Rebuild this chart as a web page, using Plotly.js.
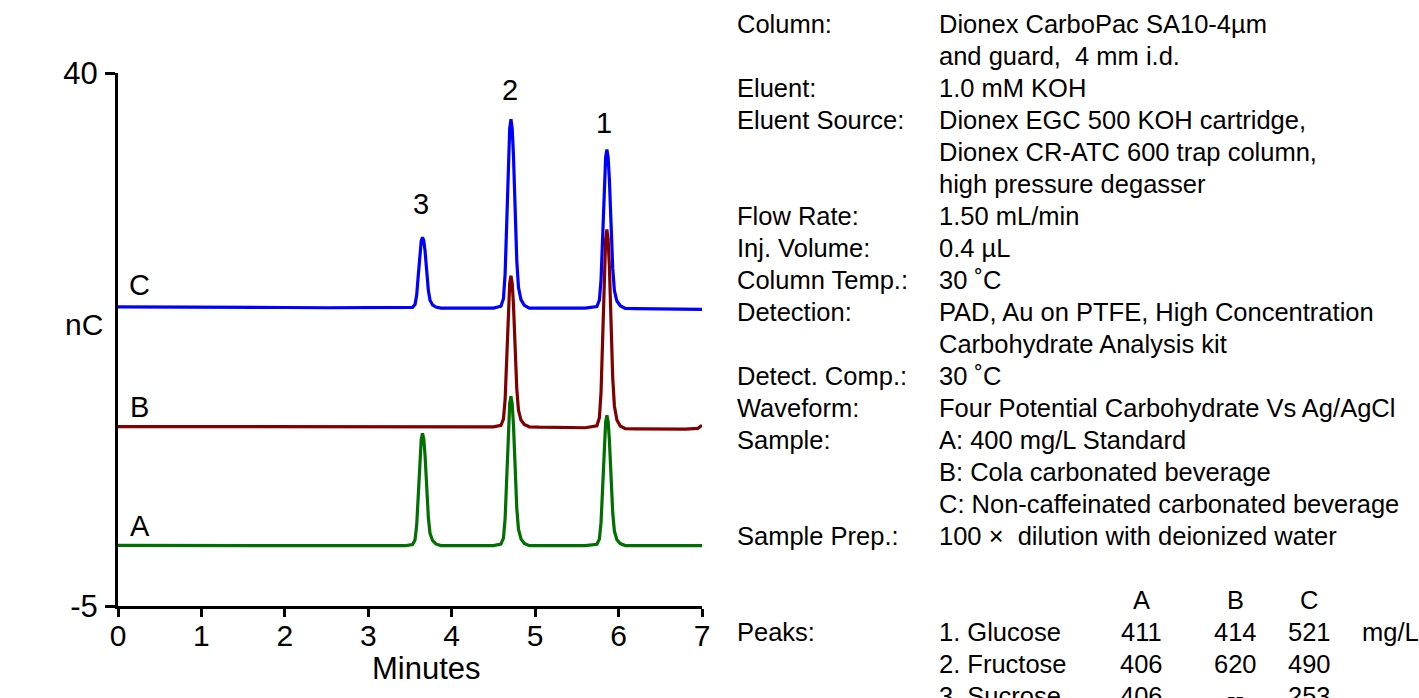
<!DOCTYPE html>
<html>
<head>
<meta charset="utf-8">
<script src="https://cdn.plot.ly/plotly-3.0.1.min.js"></script>
<style>
  html, body { margin: 0; padding: 0; background: #ffffff; }
  #chart { width: 1419px; height: 698px; }
</style>
</head>
<body>
<div id="chart"></div>
<script>
// ---- Data ----
const timeMin = [0, 0.5, 1, 1.5, 2, 2.5, 3, 3.3, 3.45,
  3.53, 3.56, 3.58, 3.60, 3.62, 3.635, 3.65, 3.665, 3.68, 3.70, 3.72, 3.74, 3.77, 3.81, 3.87,
  4.0, 4.3, 4.5,
  4.59, 4.62, 4.64, 4.66, 4.68, 4.695, 4.71, 4.725, 4.74, 4.76, 4.78, 4.80, 4.83, 4.87, 4.93,
  5.05, 5.3, 5.6,
  5.74, 5.77, 5.79, 5.81, 5.83, 5.845, 5.86, 5.875, 5.89, 5.91, 5.93, 5.95, 5.98, 6.02, 6.08,
  6.2, 6.5, 6.8, 6.95, 7.0];

const traceA = [0.12, 0.1, 0.1, 0.08, 0.1, 0.1, 0.1, 0.1, 0.1,
  0.19, 0.57, 1.80, 4.55, 7.58, 9.10, 9.57, 9.10, 7.77, 5.02, 2.47, 1.14, 0.53, 0.24, 0.1,
  0.1, 0.1, 0.1,
  0.23, 0.73, 2.37, 6.02, 10.05, 12.07, 12.7, 12.07, 10.31, 6.65, 3.25, 1.49, 0.67, 0.29, 0.1,
  0.1, 0.1, 0.1,
  0.21, 0.65, 2.08, 5.27, 8.79, 10.55, 11.1, 10.55, 9.01, 5.82, 2.85, 1.31, 0.60, 0.27, 0.1,
  0.1, 0.1, 0.1, 0.1, 0.1];

const traceB = [10.15, 10.15, 10.13, 10.13, 10.12, 10.13, 10.13, 10.13, 10.13,
  10.13, 10.13, 10.13, 10.13, 10.13, 10.13, 10.13, 10.13, 10.13, 10.13, 10.13, 10.13, 10.13, 10.13, 10.13,
  10.13, 10.13, 10.13,
  10.26, 10.77, 12.43, 16.12, 20.20, 22.24, 22.88, 22.24, 20.46, 16.76, 13.32, 11.53, 10.70, 10.32, 10.13,
  10.1, 10.1, 10.05,
  10.22, 10.89, 13.07, 17.92, 23.28, 25.96, 26.8, 25.96, 23.62, 18.76, 14.24, 11.89, 10.70, 10.2, 9.97,
  9.95, 9.93, 9.93, 10.0, 10.25];

const traceC = [20.25, 20.25, 20.22, 20.2, 20.2, 20.18, 20.18, 20.15, 20.15,
  20.21, 20.45, 21.23, 22.97, 24.88, 25.84, 26.14, 25.84, 25.0, 23.26, 21.65, 20.81, 20.42, 20.24, 20.15,
  20.15, 20.15, 20.15,
  20.31, 20.95, 23.02, 27.65, 32.75, 35.3, 36.1, 35.3, 33.07, 28.44, 24.14, 21.90, 20.87, 20.39, 20.15,
  20.15, 20.15, 20.15,
  20.28, 20.82, 22.56, 26.45, 30.74, 32.88, 33.55, 32.88, 31.0, 27.12, 23.5, 21.62, 20.75, 20.35, 20.12,
  20.1, 20.1, 20.08, 20.05, 20.05];

const traceNames = ["C", "B", "A"];
const xTickVals = [0, 1, 2, 3, 4, 5, 6, 7];
const yTickVals = [-5, 40];
const yTickText = ["-5", "40"];

const peakLabels = ["1", "2", "3"];
const peakLabelTimes = [5.83, 4.70, 3.63];
const peakLabelLevels = [35.8, 38.6, 28.9];

const traceLabelLevels = [22.1, 11.8, 1.75];

const paramLabels = ["Column:", "", "Eluent:", "Eluent Source:", "", "", "Flow Rate:", "Inj. Volume:",
  "Column Temp.:", "Detection:", "", "Detect. Comp.:", "Waveform:", "Sample:", "", "", "Sample Prep.:"];
const paramValues = ["Dionex CarboPac SA10-4µm", "and guard,\u00a0\u00a04 mm i.d.", "1.0 mM KOH",
  "Dionex EGC 500 KOH cartridge,", "Dionex CR-ATC 600 trap column,", "high pressure degasser",
  "1.50 mL/min", "0.4 µL", "30 ˚C", "PAD, Au on PTFE, High Concentration", "Carbohydrate Analysis kit",
  "30 ˚C", "Four Potential Carbohydrate Vs Ag/AgCl", "A: 400 mg/L Standard", "B: Cola carbonated beverage",
  "C: Non-caffeinated carbonated beverage", "100\u00a0×\u00a0\u00a0dilution with deionized water"];

const tableHeaders = ["A", "B", "C"];
const peakNames = ["1. Glucose", "2. Fructose", "3. Sucrose"];
const concA = ["411", "406", "406"];
const concB = ["414", "620", "--"];
const concC = ["521", "490", "253"];
const concUnit = "mg/L";

// ---- Layout helpers (pixel positions -> paper coordinates) ----
const W = 1419, H = 698;
const L = 118, R = 702, T = 73, B = 606;
const px2x = p => (p - L) / (R - L);
const py2y = p => (B - p) / (B - T);
const FONT = "Liberation Sans, Arial, sans-serif";
const PANEL_SIZE = 25.5;

const colors = { C: "#0000ff", B: "#800000", A: "#007000" };
const series = { C: traceC, B: traceB, A: traceA };

const data = traceNames.map(n => ({
  x: timeMin, y: series[n], type: "scatter", mode: "lines", name: n,
  line: { color: colors[n], width: 3.2 }, hoverinfo: "skip"
}));

const annotations = [];
const txt = (text, x, y, opts) => Object.assign({
  text, x, y, showarrow: false, xanchor: "left", yanchor: "middle",
  font: { family: FONT, size: PANEL_SIZE, color: "#000" }
}, opts || {});

// Peak numbers
peakLabels.forEach((t, i) => annotations.push(txt(t, peakLabelTimes[i], peakLabelLevels[i],
  { xref: "x", yref: "y", xanchor: "center", font: { family: FONT, size: 29, color: "#000" } })));
// Trace letters
traceNames.forEach((t, i) => annotations.push(txt(t, 0.26, traceLabelLevels[i],
  { xref: "x", yref: "y", xanchor: "center", font: { family: FONT, size: 29, color: "#000" } })));
// Axis labels
annotations.push(txt("nC", px2x(84), py2y(324), { xref: "paper", yref: "paper", xanchor: "center",
  font: { family: FONT, size: 30, color: "#000" } }));
annotations.push(txt("Minutes", px2x(426), py2y(668), { xref: "paper", yref: "paper", xanchor: "center",
  font: { family: FONT, size: 31, color: "#000" } }));

// Conditions panel
const baseline0 = 33, lineStep = 32;
const rowY = i => py2y(baseline0 + lineStep * i - 0.35 * PANEL_SIZE);
paramLabels.forEach((t, i) => { if (t) annotations.push(txt(t, px2x(735), rowY(i), { xref: "paper", yref: "paper" })); });
paramValues.forEach((t, i) => annotations.push(txt(t, px2x(937), rowY(i), { xref: "paper", yref: "paper" })));

const colCenters = [1141, 1235, 1309];
tableHeaders.forEach((t, j) => annotations.push(txt(t, px2x(colCenters[j]), rowY(18),
  { xref: "paper", yref: "paper", xanchor: "center" })));
annotations.push(txt("Peaks:", px2x(735), rowY(19), { xref: "paper", yref: "paper" }));
peakNames.forEach((t, i) => {
  const r = 19 + i;
  annotations.push(txt(t, px2x(937), rowY(r), { xref: "paper", yref: "paper" }));
  [concA, concB, concC].forEach((col, j) => annotations.push(txt(col[i], px2x(colCenters[j]), rowY(r),
    { xref: "paper", yref: "paper", xanchor: "center" })));
});
annotations.push(txt(concUnit, px2x(1360), rowY(19), { xref: "paper", yref: "paper" }));

const layout = {
  width: W, height: H,
  margin: { l: L, r: W - R, t: T, b: H - B, pad: 0 },
  paper_bgcolor: "#ffffff", plot_bgcolor: "#ffffff",
  showlegend: false,
  font: { family: FONT, color: "#000" },
  xaxis: {
    range: [0, 7], tickvals: xTickVals, ticks: "outside", ticklen: 8, tickwidth: 3,
    tickcolor: "#000", showline: true, linewidth: 3, linecolor: "#000",
    showgrid: false, zeroline: false, tickfont: { family: FONT, size: 30, color: "#000" },
    ticklabelstandoff: -7, fixedrange: true
  },
  yaxis: {
    range: [-5, 40], tickvals: yTickVals, ticktext: yTickText, ticks: "outside", ticklen: 10, tickwidth: 3,
    tickcolor: "#000", showline: true, linewidth: 3, linecolor: "#000",
    showgrid: false, zeroline: false, tickfont: { family: FONT, size: 31, color: "#000" },
    ticklabelstandoff: 1, fixedrange: true
  },
  annotations
};

Plotly.newPlot("chart", data, layout, { staticPlot: true, displayModeBar: false });
</script>
</body>
</html>
